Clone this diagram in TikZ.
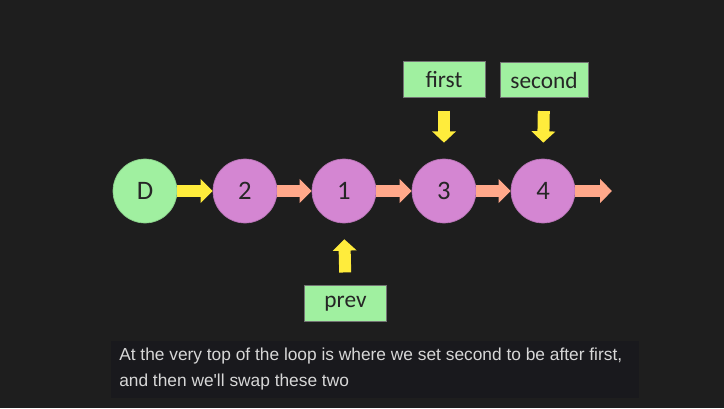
\documentclass[tikz,border=0pt]{standalone}
\usepackage{fontspec}
\setmainfont{Carlito}
\newfontfamily\capfont{Liberation Sans}
\usetikzlibrary{arrows.meta,positioning}

\definecolor{bgdark}{RGB}{30,30,30}
\definecolor{capbg}{RGB}{25,25,29}
\definecolor{capfg}{RGB}{215,215,215}
\definecolor{nodegreen}{RGB}{160,240,160}
\definecolor{nodepurple}{RGB}{212,134,210}
\definecolor{linksalmon}{RGB}{255,168,138}
\definecolor{ptryellow}{RGB}{255,236,60}

\begin{document}
\begin{tikzpicture}[x=0.75pt,y=0.75pt,
    listnode/.style={circle,minimum size=48pt,inner sep=0pt,
      draw=nodepurple!85!black,line width=0.5pt,fill=nodepurple,
      text=black!85,font=\fontsize{20}{22}\selectfont},
    ptrbox/.style={rectangle,minimum height=26.5pt,inner sep=0pt,
      draw=black!55,line width=0.6pt,fill=nodegreen,
      text=black!85,font=\fontsize{17.5}{19}\selectfont},
    link/.style={-{Triangle[length=9pt,width=17.5pt]},line width=9pt,
      linksalmon},
    ptr/.style={-{Triangle[length=8.5pt,width=17.5pt]},line width=9pt,
      ptryellow}]
    % background and bounding box
    \fill[bgdark] (0,0) rectangle (724,408);
    \useasboundingbox (0,0) rectangle (724,408);

    % The list: dummy head D, then 2, 1, 3, 4
    \node[listnode,fill=nodegreen,draw=nodegreen!85!black] (d) at (145,217) {D};
    \node[listnode] (n2) at (245,217) {2};
    \node[listnode] (n1) at (344,217) {1};
    \node[listnode] (n3) at (444,217) {3};
    \node[listnode] (n4) at (543,217) {4};
    \coordinate (tail) at (612,217);

    % Links between the nodes
    \draw[link,ptryellow] (d) -- (n2);
    \draw[link] (n2) -- (n1);
    \draw[link] (n1) -- (n3);
    \draw[link] (n3) -- (n4);
    \draw[link] (n4) -- (tail);

    % Pointer labels
    \node[ptrbox,minimum width=61.5pt] (first) at (444,328.5) {first};
    \node[ptrbox,minimum width=66pt] (second) at (544,328) {second};
    \node[ptrbox,minimum width=62pt] (prev) at (345.5,104.5) {prev};

    % Pointer arrows
    \draw[ptr,shorten <=9.75pt,shorten >=12pt] (first.south) -- (n3.north);
    \draw[ptr,shorten <=9.75pt,shorten >=12pt] (second.south) -- (n4.north);
    \draw[ptr,shorten <=9.75pt,shorten >=12pt] (prev.north) -- (n1.south);

    % Caption
    \fill[capbg] (111,10) rectangle (639,67);
    \node[anchor=north west,align=left,inner sep=0pt,text=capfg,
      font=\capfont\fontsize{13}{19.5}\selectfont] (caption) at (119,60)
      {At the very top of the loop is where we set second to be after first,\\
       and then we'll swap these two};
  \end{tikzpicture}
\end{document}
